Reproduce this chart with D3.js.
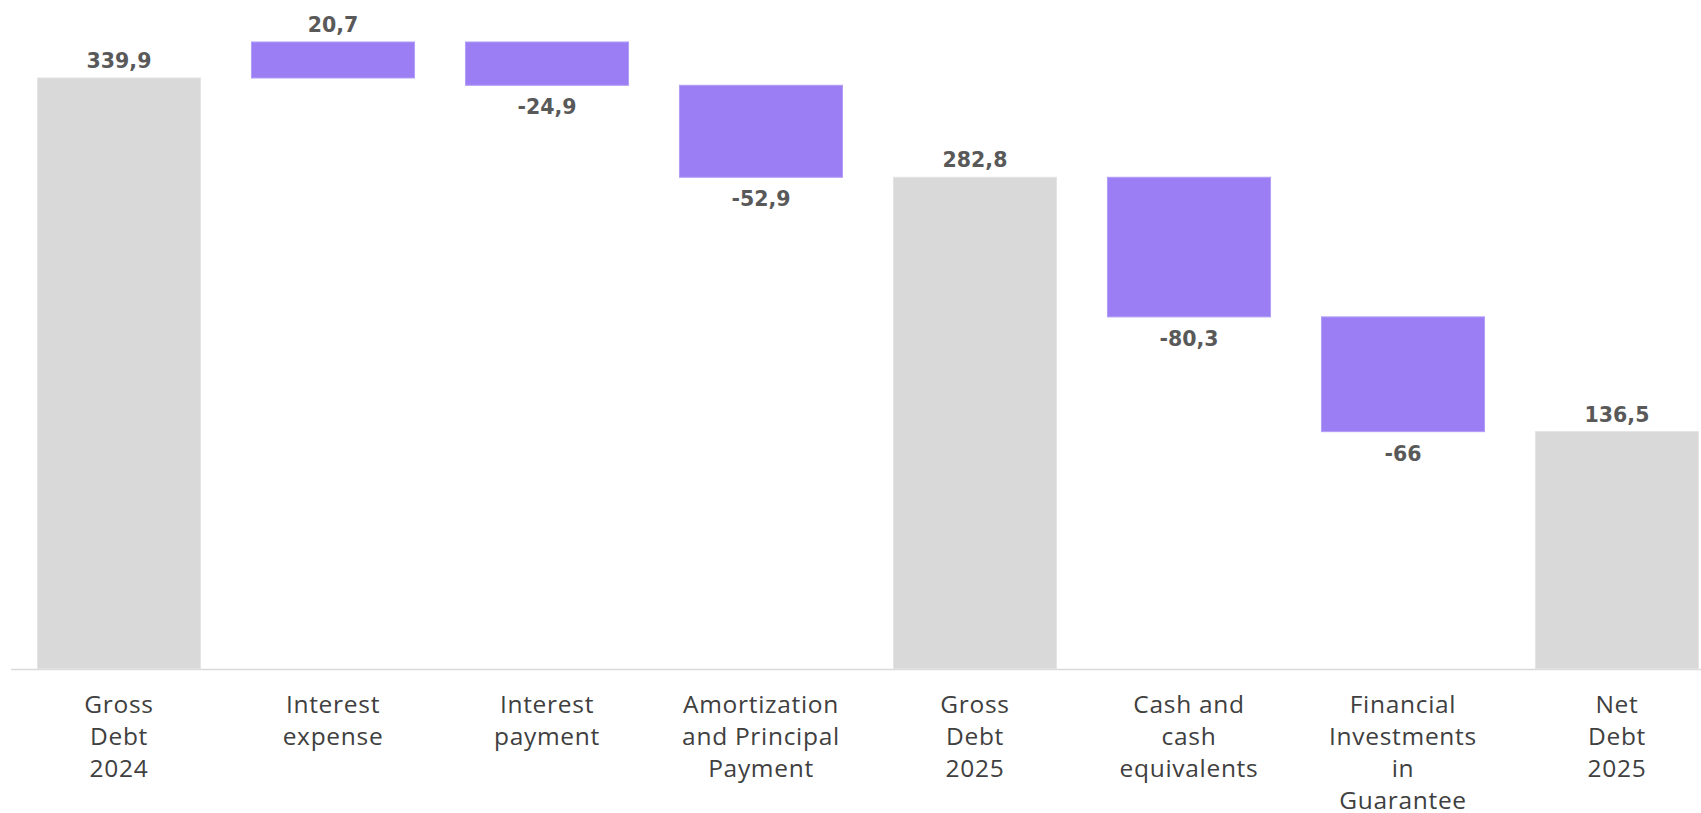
<!DOCTYPE html>
<html>
<head>
<meta charset="utf-8">
<script src="https://cdn.jsdelivr.net/npm/d3@7"></script>
<style>
  body { margin: 0; background: #fff; }
  svg { display: block; }
</style>
</head>
<body>
<script>
'use strict';

// categories (line breaks as in the picture)
const categories = [
  "Gross\nDebt\n2024",
  "Interest\nexpense",
  "Interest\npayment",
  "Amortization\nand Principal\nPayment",
  "Gross\nDebt\n2025",
  "Cash and\ncash\nequivalents",
  "Financial\nInvestments\nin\nGuarantee",
  "Net\nDebt\n2025"
];
// step values; totals are full bars
const values = [339.9, 20.7, -24.9, -52.9, 282.8, -80.3, -66, 136.5];
const isTotal = [true, false, false, false, true, false, false, true];
const valueLabels = ["339,9", "20,7", "-24,9", "-52,9", "282,8", "-80,3", "-66", "136,5"];

const width = 1701, height = 813;
const baseY = 669;

const svg = d3.select('body').append('svg')
  .attr('width', width)
  .attr('height', height);

// build waterfall start/end
let running = 0;
const bars = values.map(function(v, i) {
  let start, end;
  if (isTotal[i]) {
    start = 0; end = v; running = v;
  } else {
    start = running; end = running + v; running = end;
  }
  return { cat: categories[i], value: v, total: isTotal[i], label: valueLabels[i], start: start, end: end };
});

const xScale = d3.scaleBand()
  .domain(categories)
  .range([12, 1724])
  .paddingInner(0.238)
  .paddingOuter(0.119);

const yScale = d3.scaleLinear()
  .domain([0, 384.75])
  .range([baseY, 0]);

// baseline
svg.append('line')
  .attr('x1', 11).attr('x2', width)
  .attr('y1', baseY + 0.5).attr('y2', baseY + 0.5)
  .attr('stroke', '#d9d9d9')
  .attr('stroke-width', 1.5);

// bars
svg.selectAll('.bar')
  .data(bars)
  .enter().append('rect')
  .attr('class', 'bar')
  .attr('x', d => xScale(d.cat))
  .attr('width', xScale.bandwidth())
  .attr('y', d => yScale(Math.max(d.start, d.end)))
  .attr('height', d => Math.abs(yScale(d.start) - yScale(d.end)))
  .attr('fill', d => d.total ? '#d9d9d9' : '#9b7ef3')
  .attr('stroke', d => d.total ? '#e4e4e4' : '#b29df7')
  .attr('stroke-width', 1);

// value labels
svg.selectAll('.val')
  .data(bars)
  .enter().append('text')
  .attr('class', 'val')
  .attr('x', d => xScale(d.cat) + xScale.bandwidth() / 2)
  .attr('y', d => d.value >= 0 ? yScale(Math.max(d.start, d.end)) - 10
                               : yScale(Math.min(d.start, d.end)) + 29)
  .attr('text-anchor', 'middle')
  .style('font-family', '"DejaVu Sans", sans-serif')
  .style('font-weight', 'bold')
  .style('font-size', '20.5px')
  .style('fill', '#595959')
  .text(d => d.label);

// category labels
const cats = svg.selectAll('.cat')
  .data(categories)
  .enter().append('text')
  .attr('class', 'cat')
  .attr('x', d => xScale(d) + xScale.bandwidth() / 2)
  .attr('y', 713)
  .attr('text-anchor', 'middle')
  .style('font-family', '"Open Sans", sans-serif')
  .style('font-size', '24.5px')
  .style('letter-spacing', '0.7px')
  .style('fill', '#404040');

cats.selectAll('tspan')
  .data(d => d.split('\n'))
  .enter().append('tspan')
  .attr('x', function() { return d3.select(this.parentNode).attr('x'); })
  .attr('dy', (d, i) => i === 0 ? 0 : 32)
  .text(d => d);
</script>
</body>
</html>
